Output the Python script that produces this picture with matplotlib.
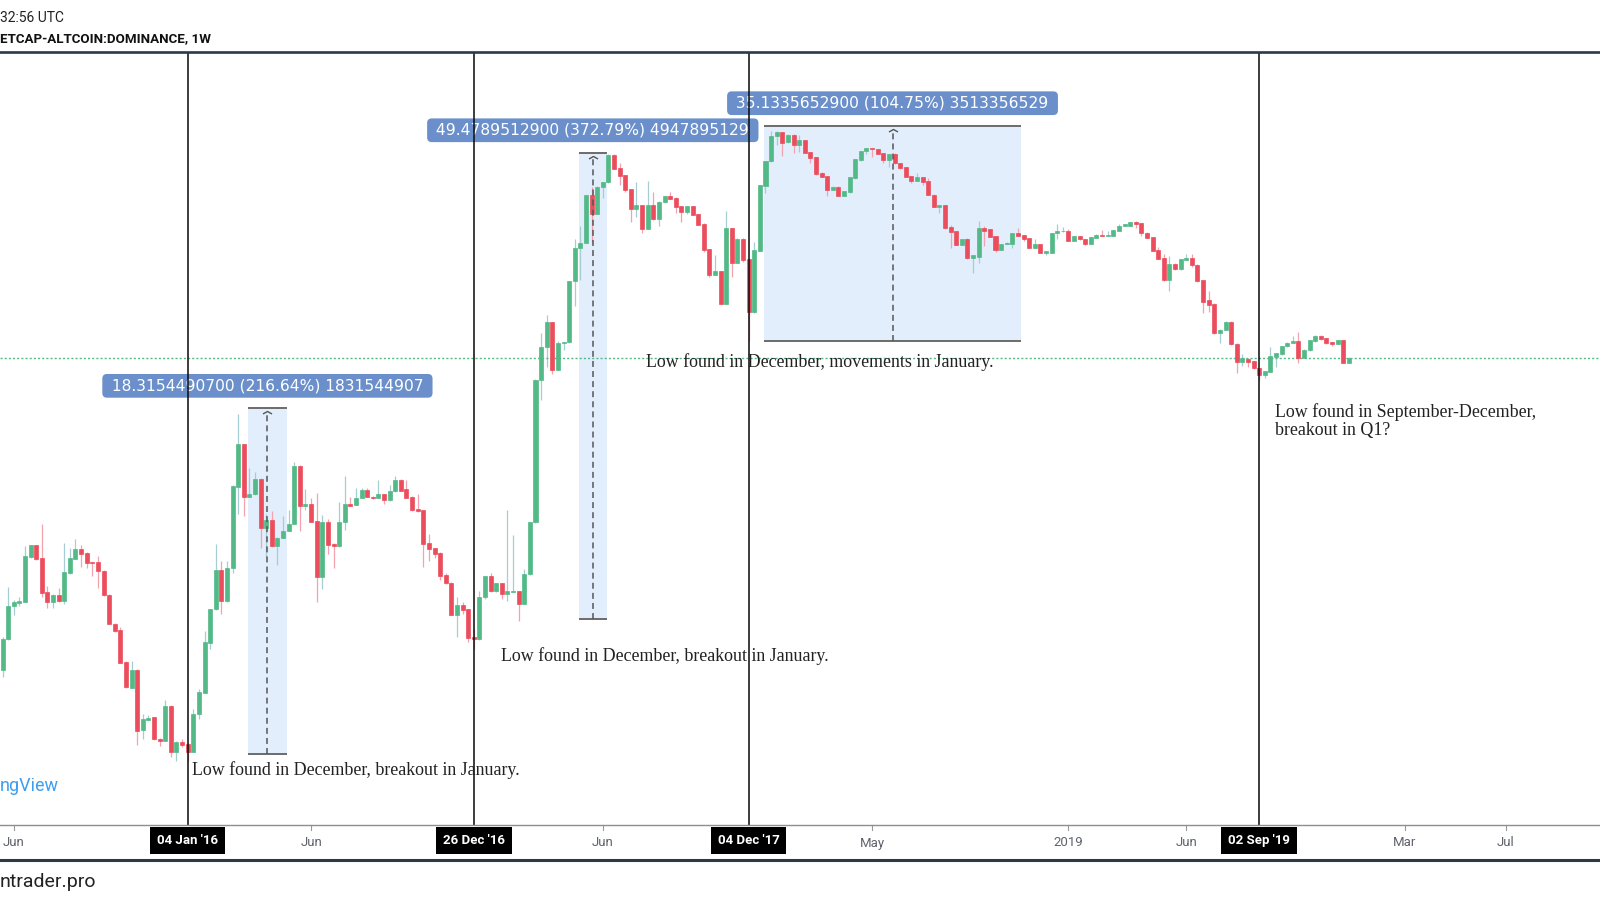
import matplotlib
matplotlib.use("Agg")
import matplotlib.pyplot as plt
import matplotlib.dates as mdates
import matplotlib.transforms as mtransforms
from matplotlib.patches import Rectangle
from matplotlib.lines import Line2D
from matplotlib.path import Path
import numpy as np
import pandas as pd

# ---------------- data (weekly candles, altcoin dominance %) ----------------
first_week = "2015-05-18"
opens = [11.2, 12.4, 13.83, 14.0, 14.05, 16.3, 16.95, 16.25, 14.5, 14.05, 14.38, 14.07, 15.45, 16.2, 16.74, 16.55, 16.02, 16.02, 15.55, 14.38,
         13.05, 12.77, 11.5, 10.55, 11.2, 9.16, 9.47, 9.56, 8.9, 8.84, 9.92, 8.5, 8.8, 8.75, 8.52, 9.66, 10.37, 12.25, 13.7, 15.6,
         14.07, 15.7, 20.6, 23.75, 19.95, 20.1, 21.15, 17.97, 18.45, 16.9, 17.4, 17.8, 18.2, 22.1, 19.3, 19.45, 18.4, 15.25, 18.35, 17.05,
         16.9, 18.3, 19.45, 19.4, 19.85, 20.4, 19.95, 19.85, 20.1, 19.7, 20.3, 21.1, 20.45, 19.95, 19.15, 19.05, 17.1, 16.8, 16.55, 15.35,
         14.97, 13.45, 13.9, 13.7, 12.5, 12.4, 14.25, 15.3, 14.55, 14.95, 14.4, 14.53, 14.55, 13.95, 15.4, 18.3, 29.4, 32.85, 35.65, 30.45,
         33.3, 33.35, 40.9, 45.65, 46.5, 54.45, 51.2, 55.9, 56.85, 62.25, 59.6, 58.25, 55.65, 52.05, 52.7, 48.7, 52.75, 50.25, 53.2, 54.3,
         54.05, 52.5, 51.55, 52.5, 51.15, 49.55, 45.55, 41.75, 42.3, 37.95, 48.8, 43.45, 47.15, 44.0, 36.85, 45.3, 56.2, 61.0, 66.3, 67.2,
         64.95, 66.6, 64.4, 65.5, 62.9, 61.9, 58.75, 58.05, 55.5, 56.05, 54.3, 55.0, 57.6, 61.2, 63.05, 63.8, 63.45, 62.7, 61.2, 62.45,
         60.65, 59.85, 58.05, 57.15, 57.8, 57.1, 54.6, 52.35, 52.65, 48.95, 48.35, 46.15, 47.15, 44.15, 44.4, 48.8, 48.6, 47.5, 45.4, 46.3,
         46.3, 47.95, 47.7, 47.25, 45.7, 46.3, 45.0, 45.0, 47.95, 48.3, 48.35, 46.75, 47.55, 47.1, 46.35, 47.3, 47.75, 47.55, 47.6, 48.4,
         49.15, 49.2, 49.8, 49.6, 48.1, 47.35, 45.4, 44.2, 41.0, 43.3, 42.55, 43.9, 44.25, 43.2, 41.0, 38.4, 37.95, 34.4, 34.75, 35.75,
         33.2, 31.25, 31.6, 31.3, 30.6, 29.95, 30.25, 31.8, 32.05, 32.9, 33.3, 33.5, 31.7, 32.5, 33.5, 34.1, 33.8, 33.4, 33.2, 33.6,
         31.15]
highs = [12.5, 14.75, 14.13, 14.25, 16.9, 17.0, 17.0, 18.2, 14.8, 14.4, 14.7, 17.1, 16.8, 17.33, 16.95, 16.57, 16.05, 16.35, 15.6, 14.4,
         13.07, 12.93, 11.52, 11.52, 11.22, 9.66, 9.64, 9.58, 8.92, 10.13, 9.95, 8.82, 8.88, 8.78, 9.81, 10.52, 12.73, 13.72, 17.05, 16.1,
         16.1, 20.7, 26.3, 23.8, 21.95, 21.65, 21.2, 18.8, 19.0, 17.42, 18.7, 19.05, 22.4, 22.15, 20.45, 19.85, 20.18, 18.75, 18.5, 17.07,
         19.6, 21.35, 19.9, 20.5, 20.5, 20.5, 19.98, 21.05, 20.12, 20.7, 21.35, 21.15, 21.1, 19.97, 20.1, 19.07, 17.6, 16.82, 16.57, 15.47,
         15.0, 14.25, 14.05, 13.72, 12.85, 14.55, 15.32, 15.45, 14.97, 14.97, 19.05, 17.55, 14.57, 15.65, 18.32, 29.55, 34.4, 36.5, 35.7, 33.55,
         33.37, 40.95, 47.15, 49.2, 54.55, 55.9, 56.15, 56.9, 62.5, 62.5, 60.6, 58.3, 55.7, 56.85, 52.75, 57.1, 55.1, 53.35, 54.4, 55.0,
         54.1, 52.55, 52.55, 52.55, 51.2, 49.6, 45.6, 44.6, 42.35, 51.6, 48.85, 47.2, 47.2, 44.05, 46.65, 56.35, 61.1, 67.55, 67.55, 67.25,
         66.8, 66.75, 66.6, 65.55, 62.95, 61.95, 58.8, 58.1, 56.1, 56.1, 55.25, 57.85, 61.45, 63.2, 63.85, 63.85, 63.5, 62.75, 62.5, 62.6,
         60.7, 59.9, 58.1, 58.6, 57.85, 57.6, 54.65, 52.7, 52.7, 49.35, 48.4, 47.1, 47.3, 44.7, 50.0, 49.2, 48.65, 47.55, 46.35, 46.55,
         48.0, 48.8, 47.75, 47.3, 47.0, 46.35, 45.25, 48.0, 49.55, 48.95, 48.65, 47.6, 47.6, 47.15, 47.4, 47.8, 48.5, 48.35, 48.55, 49.45,
         49.55, 49.85, 50.05, 49.65, 48.15, 47.45, 45.9, 44.75, 44.45, 43.4, 44.1, 44.75, 44.8, 43.25, 41.05, 39.55, 38.0, 34.85, 35.8, 35.8,
         33.25, 32.05, 31.65, 31.35, 30.65, 30.35, 32.85, 32.2, 33.0, 33.35, 34.1, 34.5, 32.6, 33.65, 34.15, 34.15, 33.85, 33.45, 33.65, 33.65,
         31.75]
lows = [10.95, 12.35, 13.44, 13.83, 14.02, 16.28, 16.15, 14.26, 13.77, 13.77, 14.04, 13.95, 15.43, 16.18, 15.75, 15.7, 15.3, 14.73, 14.33, 13.03,
        12.7, 11.45, 10.53, 10.53, 8.71, 8.88, 9.45, 8.87, 8.7, 8.82, 8.38, 8.27, 8.67, 8.25, 8.5, 9.49, 10.35, 12.0, 13.68, 13.5,
        14.05, 15.45, 18.8, 18.7, 19.93, 20.07, 16.8, 16.3, 16.88, 15.9, 17.38, 17.78, 18.18, 17.8, 19.1, 18.33, 14.05, 14.65, 16.45, 15.7,
        16.88, 17.85, 19.33, 19.38, 19.83, 19.93, 19.8, 19.83, 19.45, 19.68, 20.28, 20.33, 19.83, 19.03, 18.98, 15.8, 16.1, 16.25, 15.1, 14.93,
        13.43, 12.5, 13.5, 12.27, 12.0, 12.38, 14.2, 14.53, 14.53, 14.2, 14.1, 14.5, 13.17, 13.93, 15.38, 18.28, 27.5, 30.7, 30.0, 30.43,
        32.5, 33.3, 37.6, 41.0, 46.45, 46.5, 51.15, 53.9, 56.8, 59.4, 56.3, 55.0, 49.85, 50.7, 47.95, 48.65, 50.2, 49.2, 53.15, 53.75,
        51.3, 49.85, 51.1, 51.0, 49.35, 45.05, 41.5, 41.7, 37.9, 37.9, 41.5, 43.4, 43.65, 33.55, 36.8, 45.25, 54.9, 60.95, 64.4, 62.05,
        64.9, 62.6, 62.9, 62.75, 60.55, 58.3, 57.9, 54.3, 55.45, 54.25, 54.25, 54.95, 57.55, 61.15, 62.4, 61.9, 62.4, 60.65, 59.9, 60.5,
        59.35, 57.85, 56.8, 57.1, 56.3, 54.45, 52.3, 51.3, 48.75, 45.65, 46.1, 46.1, 44.1, 42.05, 43.45, 46.0, 47.35, 45.15, 45.35, 46.25,
        45.7, 47.5, 46.8, 45.65, 45.65, 44.95, 44.7, 44.95, 47.0, 48.25, 46.7, 46.7, 46.95, 46.15, 46.3, 47.25, 47.5, 47.5, 47.55, 48.35,
        49.1, 49.15, 48.8, 47.6, 47.2, 45.2, 44.0, 40.95, 39.6, 42.5, 42.5, 43.85, 42.9, 40.85, 36.8, 36.95, 34.35, 33.3, 34.7, 33.1,
        30.1, 30.8, 30.7, 30.55, 29.4, 29.6, 30.2, 30.75, 32.0, 32.85, 33.25, 31.15, 31.65, 32.45, 33.45, 33.65, 33.2, 33.0, 33.15, 31.1,
        31.1]
closes = [12.4, 13.86, 14.02, 14.07, 16.34, 16.95, 16.2, 14.47, 14.05, 14.38, 14.07, 15.49, 16.25, 16.74, 16.5, 16.0, 15.97, 15.55, 14.35, 13.05,
          12.73, 11.47, 10.56, 11.2, 9.14, 9.49, 9.53, 8.88, 8.84, 9.92, 8.5, 8.8, 8.72, 8.52, 9.66, 10.4, 12.27, 13.7, 15.6, 14.07,
          15.73, 20.63, 23.77, 19.95, 20.1, 21.15, 17.97, 18.45, 16.9, 17.4, 17.8, 18.2, 22.1, 19.3, 19.45, 18.35, 15.24, 18.35, 16.95, 16.9,
          18.35, 19.45, 19.35, 19.85, 20.4, 19.95, 19.85, 20.1, 19.7, 20.3, 21.1, 20.35, 19.85, 19.05, 19.0, 17.05, 16.75, 16.5, 15.3, 14.95,
          13.45, 13.9, 13.65, 12.45, 12.4, 14.25, 15.3, 14.55, 14.95, 14.4, 14.55, 14.57, 13.95, 15.4, 18.3, 29.4, 32.86, 35.65, 30.45, 33.3,
          33.35, 40.9, 45.65, 46.5, 54.45, 51.2, 55.9, 56.85, 62.25, 59.45, 58.1, 55.4, 52.0, 52.75, 48.7, 52.65, 50.25, 53.3, 54.3, 53.8,
          52.35, 51.55, 52.5, 51.05, 49.4, 45.4, 41.75, 42.3, 37.95, 48.8, 43.45, 47.15, 43.9, 36.85, 45.4, 56.3, 61.05, 66.4, 67.2, 64.9,
          66.6, 64.4, 65.5, 62.8, 61.7, 58.45, 57.95, 55.4, 56.05, 54.3, 55.2, 57.8, 61.4, 63.15, 63.8, 63.45, 62.45, 61.2, 62.45, 60.55,
          59.65, 57.95, 57.1, 57.8, 57.0, 54.5, 52.35, 52.65, 48.8, 48.15, 46.15, 47.05, 44.15, 44.65, 48.8, 48.4, 47.4, 45.4, 46.3, 46.5,
          47.95, 47.55, 47.1, 45.7, 46.3, 45.0, 45.2, 47.95, 48.35, 48.35, 46.75, 47.55, 47.0, 46.35, 47.35, 47.75, 47.55, 47.75, 48.5, 49.2,
          49.5, 49.8, 49.45, 47.95, 47.25, 45.25, 44.05, 41.0, 43.3, 42.55, 44.05, 44.25, 43.15, 40.9, 38.2, 37.75, 34.4, 34.8, 35.75, 33.15,
          31.25, 31.7, 31.25, 30.6, 29.95, 30.3, 31.85, 32.15, 32.95, 33.3, 33.5, 31.7, 32.55, 33.6, 34.1, 33.7, 33.25, 33.2, 33.6, 31.15,
          31.7]

# event markers (vertical lines with date tags)
event_dates = ["2016-01-04", "2016-12-26", "2017-12-04", "2019-09-02"]
event_tags = ["04 Jan '16", "26 Dec '16", "04 Dec '17", "02 Sep '19"]

# price-range measurements: start, end, low, high, label
range_start = ["2016-03-19", "2017-05-06", "2017-12-23"]
range_end = ["2016-05-07", "2017-06-10", "2018-11-09"]
range_low = [8.4543, 13.2726, 33.5404]
range_high = [26.7698, 62.7516, 68.6740]
range_labels = ["18.3154490700 (216.64%) 1831544907",
                "49.4789512900 (372.79%) 4947895129",
                "35.1335652900 (104.75%) 3513356529"]

# month axis labels (first weekly bar of each month)
month_dates = ["2015-06-01", "2016-06-06", "2017-06-05", "2018-05-07", "2019-01-07",
               "2019-06-03", "2020-03-02", "2020-07-06"]
month_labels = ["Jun", "Jun", "Jun", "May", "2019", "Jun", "Mar", "Jul"]

# free-text notes: date, level, text
note_dates = ["2016-01-09", "2017-01-29", "2017-07-29", "2019-09-22", "2019-09-22"]
note_levels = [8.02, 11.72, 31.24, 26.44, 24.85]
note_texts = ["Low found in December, breakout in January.",
              "Low found in December, breakout in January.",
              "Low found in December, movements in January.",
              "Low found in September-December,",
              "breakout in Q1?"]

last_price = closes[-1]

# ---------------- figure ----------------
W, H = 1600, 900
fig = plt.figure(figsize=(16, 9), dpi=100)
fig.patch.set_facecolor("white")
ax_top, ax_bot = 53, 825
ax = fig.add_axes([0, (H - ax_bot) / H, 1, (ax_bot - ax_top) / H])
ax.set_yscale("log")
ax.set_ylim(6.675, 87.51)
base = mdates.date2num(pd.Timestamp("2016-01-04"))
ax.set_xlim(base - 234.2, base + 1762.3)
ax.axis("off")

dates = pd.date_range(first_week, periods=len(opens), freq="7D")
x = mdates.date2num(dates)
o = np.array(opens); c = np.array(closes); hi = np.array(highs); lo = np.array(lows)
up = c >= o

UP, DN = "#53b987", "#eb4d5c"
UPW, DNW = "#a6ccd4", "#f3a3ad"

# range boxes (behind candles)
for s, e, l, h in zip(range_start, range_end, range_low, range_high):
    xs = mdates.date2num(pd.Timestamp(s)); xe = mdates.date2num(pd.Timestamp(e))
    ax.add_patch(Rectangle((xs, l), xe - xs, h - l, facecolor="#e2eefc", edgecolor="none", zorder=1))
    ax.plot([xs, xe], [l, l], color="#6b6b6b", lw=1.4, zorder=1.5, solid_capstyle="butt")
    ax.plot([xs, xe], [h, h], color="#6b6b6b", lw=1.4, zorder=1.5, solid_capstyle="butt")

# candles
ax.vlines(x, lo, hi, colors=np.where(up, UPW, DNW), lw=0.9, zorder=2)
bottoms = np.minimum(o, c)
heights = np.abs(c - o)
ax.bar(x, heights, bottom=bottoms, width=5.0, color=np.where(up, UP, DN),
       edgecolor=np.where(up, UP, DN), linewidth=0.5, zorder=3)

# dashed centre lines with chevrons + labels
chev = Path([(-1, -0.55), (0, 0), (1, -0.55)], [Path.MOVETO, Path.LINETO, Path.LINETO])
for s, e, l, h, lab in zip(range_start, range_end, range_low, range_high, range_labels):
    xs = mdates.date2num(pd.Timestamp(s)); xe = mdates.date2num(pd.Timestamp(e))
    xc = (xs + xe) / 2
    ax.plot([xc, xc], [l, h * 0.985], color="#555555", lw=1.1, ls=(0, (3.9, 2.7)), zorder=4)
    ax.plot([xc], [h * 0.99], marker=chev, markersize=6.5, markerfacecolor="none",
            markeredgecolor="#555555", markeredgewidth=1.0, zorder=4)
    ax.annotate(" " + lab + " ", xy=(xc, h), xytext=(0, 22.5), textcoords="offset pixels",
                ha="center", va="center", color="white", fontsize=11.2,
                family="DejaVu Sans", zorder=5,
                bbox=dict(boxstyle="round,pad=0.28,rounding_size=0.3", fc="#6a8fca", ec="none"))

# last price line
ax.axhline(last_price, color=UP, lw=1.0, ls=(0, (1.5, 1.5)), zorder=2.5)

# event lines + date tags
xb = mtransforms.blended_transform_factory(ax.transData, ax.transAxes)
for d, tag in zip(event_dates, event_tags):
    xd = mdates.date2num(pd.Timestamp(d))
    ax.axvline(xd, color="#111111", lw=1.15, zorder=6)
    ax.text(xd, (ax_bot - 840.5) / (ax_bot - ax_top), tag, transform=xb, ha="center", va="center",
            color="white", fontsize=9.5, family="Roboto", fontweight="bold", zorder=8, clip_on=False,
            bbox=dict(boxstyle="square,pad=0.52", fc="black", ec="none"))

# month ticks + labels
for d, lab in zip(month_dates, month_labels):
    xd = mdates.date2num(pd.Timestamp(d))
    ax.plot([xd, xd], [0, -5 / 772], transform=xb, color="#9a9a9a", lw=0.8, clip_on=False, zorder=7)
    ax.text(xd, (ax_bot - 843) / (ax_bot - ax_top), lab, transform=xb, ha="center", va="center",
            color="#5f636b", fontsize=9.5, family="Roboto", clip_on=False, zorder=7)

# notes
for d, lv, t in zip(note_dates, note_levels, note_texts):
    ax.text(mdates.date2num(pd.Timestamp(d)), lv, t, ha="left", va="center",
            fontsize=12.9, family="Liberation Serif", color="#222222", zorder=9)

# frame lines
fig.add_artist(Line2D([0, 1], [1 - 52 / H, 1 - 52 / H], transform=fig.transFigure, color="#2b3a48", lw=1.9))
fig.add_artist(Line2D([0, 1], [1 - 825 / H, 1 - 825 / H], transform=fig.transFigure, color="#8e8e8e", lw=1.0))
fig.add_artist(Line2D([0, 1], [1 - 860 / H, 1 - 860 / H], transform=fig.transFigure, color="#2b3a48", lw=2.2))

# header / footer texts
fig.text(0.0, 1 - 17.5 / H, "32:56 UTC", ha="left", va="center", fontsize=10, family="Roboto", color="#222222")
fig.text(0.0, 1 - 39 / H, "ETCAP-ALTCOIN:DOMINANCE, 1W", ha="left", va="center", fontsize=9.6,
         family="Roboto", fontweight="bold", color="#111111")
fig.text(0.0, 1 - 786 / H, "ngView", ha="left", va="center", fontsize=13, family="Roboto",
         color="#3d9ef0")
fig.text(0.0, 1 - 882 / H, "ntrader.pro", ha="left", va="center", fontsize=14, family="Roboto",
         color="#222222")

fig.savefig("out.png", dpi=100, facecolor="white")
